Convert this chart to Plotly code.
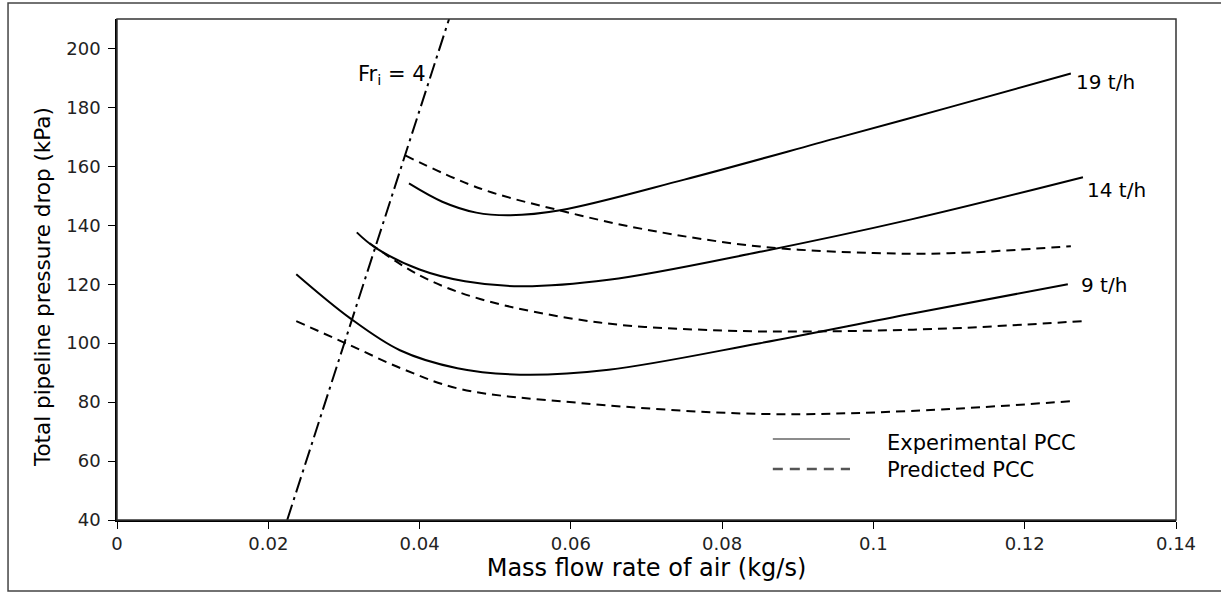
import plotly.graph_objects as go

# Experimental PCC
x_exp19 = [0.0386, 0.0430, 0.0475, 0.0520, 0.0586, 0.0750, 0.0950, 0.1100, 0.1261]
y_exp19 = [154.2, 148.0, 144.3, 143.4, 145.1, 155.5, 169.5, 180.0, 191.5]
x_exp14 = [0.0317, 0.0341, 0.0400, 0.0460, 0.0533, 0.0650, 0.0850, 0.1050, 0.1277]
y_exp14 = [137.6, 132.5, 125.0, 121.0, 119.3, 121.5, 131.0, 142.0, 156.3]
x_exp9 = [0.0237, 0.0308, 0.0374, 0.0450, 0.0533, 0.0650, 0.0850, 0.1050, 0.1257]
y_exp9 = [123.4, 108.5, 97.6, 91.5, 89.3, 91.0, 100.0, 110.0, 120.0]

# Predicted PCC
x_pre19 = [0.0381, 0.0480, 0.0586, 0.0700, 0.0850, 0.1000, 0.1100, 0.1261]
y_pre19 = [163.7, 152.5, 145.0, 138.5, 132.8, 130.6, 130.5, 132.9]
x_pre14 = [0.0334, 0.0400, 0.0480, 0.0638, 0.0800, 0.0930, 0.1100, 0.1277]
y_pre14 = [133.9, 123.0, 115.0, 107.0, 104.3, 104.0, 105.0, 107.5]
x_pre9 = [0.0237, 0.0308, 0.0380, 0.0453, 0.0612, 0.0850, 0.1050, 0.1260]
y_pre9 = [107.5, 99.3, 91.0, 84.5, 79.7, 76.0, 77.0, 80.3]

# Fr_i = 4 line
x_fr = [0.0225, 0.0439]
y_fr = [40, 210]

series_labels = ["19 t/h", "14 t/h", "9 t/h"]
label_x = [0.1265, 0.1280, 0.1272]
label_y = [188.5, 152.0, 119.7]

FONT = "DejaVu Sans"

fig = go.Figure()
line_col = "black"
for xs, ys in [(x_exp19, y_exp19), (x_exp14, y_exp14), (x_exp9, y_exp9)]:
    fig.add_trace(go.Scatter(x=xs, y=ys, mode="lines", showlegend=False,
                             line=dict(color=line_col, width=2, shape="spline", smoothing=1.0)))
for xs, ys in [(x_pre19, y_pre19), (x_pre14, y_pre14), (x_pre9, y_pre9)]:
    fig.add_trace(go.Scatter(x=xs, y=ys, mode="lines", showlegend=False,
                             line=dict(color=line_col, width=2, dash="9px,6px", shape="spline", smoothing=1.0)))
fig.add_trace(go.Scatter(x=x_fr, y=y_fr, mode="lines", showlegend=False,
                         line=dict(color=line_col, width=2, dash="16px,5px,3px,5px")))

for t, lx, ly in zip(series_labels, label_x, label_y):
    fig.add_annotation(x=lx, y=ly, text=t, showarrow=False, xanchor="left", yanchor="middle",
                       font=dict(size=20, color="black", family=FONT))

fig.add_annotation(x=0.0316, y=191, text="Fr<sub>i</sub> = 4", showarrow=False, xanchor="left",
                   yanchor="middle", font=dict(size=21, color="black", family=FONT))

# legend (drawn inside plot)
fig.add_shape(type="line", xref="x", yref="y", x0=0.0867, x1=0.0969, y0=67.5, y1=67.5,
              line=dict(color="#666666", width=1.5))
fig.add_shape(type="line", xref="x", yref="y", x0=0.0867, x1=0.0969, y0=57.3, y1=57.3,
              line=dict(color="#555555", width=2.5, dash="10px,7px"))
fig.add_annotation(x=0.1015, y=66, text="Experimental PCC", showarrow=False, xanchor="left",
                   yanchor="middle", font=dict(size=21, color="black", family=FONT))
fig.add_annotation(x=0.1015, y=57, text="Predicted PCC", showarrow=False, xanchor="left",
                   yanchor="middle", font=dict(size=21, color="black", family=FONT))

# y-axis title
fig.add_annotation(xref="paper", yref="paper", x=-0.0708, y=0.465, text="Total pipeline pressure drop (kPa)",
                   textangle=-90, showarrow=False, xanchor="center", yanchor="middle",
                   font=dict(size=21.5, color="black", family=FONT))

# plot frame
fig.add_shape(type="rect", xref="paper", yref="paper", x0=0, x1=1, y0=0, y1=1,
              line=dict(color="#333333", width=1.5), layer="above")
# outer image border
fig.add_shape(type="rect", xref="paper", yref="paper", x0=-0.1029, x1=1.06, y0=-0.1417, y1=1.032,
              line=dict(color="#444444", width=1.5))

fig.update_layout(
    width=1221, height=592,
    margin=dict(l=117, r=45, t=19, b=72),
    paper_bgcolor="white", plot_bgcolor="white",
    font=dict(family=FONT, color="black"),
    showlegend=False,
)
fig.update_xaxes(range=[0, 0.14], tickvals=[0, 0.02, 0.04, 0.06, 0.08, 0.1, 0.12, 0.14],
                 ticktext=["0", "0.02", "0.04", "0.06", "0.08", "0.1", "0.12", "0.14"],
                 ticks="outside", ticklen=7, tickcolor="black", showgrid=False, zeroline=False,
                 showline=True, linecolor="black", linewidth=1.5,
                 tickfont=dict(size=18, color="#222", family=FONT),
                 title=dict(text="Mass flow rate of air (kg/s)", font=dict(size=24, family=FONT), standoff=6))
fig.update_yaxes(range=[40, 210], tickvals=[40, 60, 80, 100, 120, 140, 160, 180, 200],
                 ticks="outside", ticklen=7, tickcolor="black", showgrid=False, zeroline=False,
                 showline=True, linecolor="black", linewidth=1.5, ticklabelstandoff=4,
                 tickfont=dict(size=18, color="#222", family=FONT))

fig.write_html("out.html")
